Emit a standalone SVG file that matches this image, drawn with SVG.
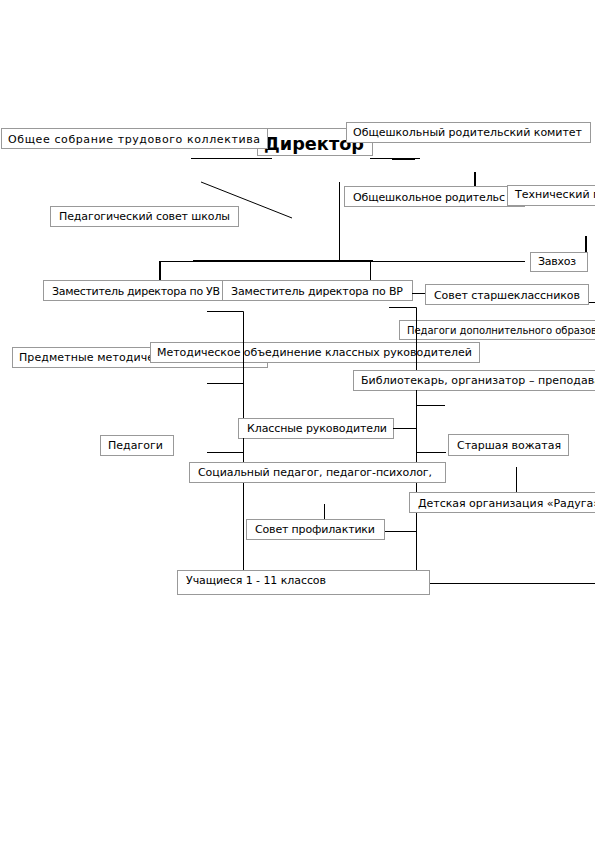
<svg xmlns="http://www.w3.org/2000/svg" width="595" height="842" viewBox="0 0 595 842">
<style>
.b{fill:#fff;stroke:#999;stroke-width:1}
.t{font-family:"DejaVu Sans","Liberation Sans",sans-serif;font-size:11px;fill:#000}
.s{font-size:10px}
.h{font-family:"DejaVu Sans","Liberation Sans",sans-serif;font-size:18px;font-weight:bold;fill:#000}
.l{stroke:#000;stroke-width:1;fill:none}
.k{stroke:#000;stroke-width:2;fill:none}
</style>
<rect width="595" height="842" fill="#fff"/>
<g id="n-director"><rect class="b" x="257.5" y="128.5" width="115" height="27"/><text class="h" x="264" y="150" textLength="100" lengthAdjust="spacingAndGlyphs">Директор</text></g>
<g id="n-sobranie"><rect class="b" x="1.5" y="128.5" width="266" height="20"/><text class="t" x="8" y="143" textLength="252" lengthAdjust="spacing">Общее собрание трудового коллектива</text></g>
<g id="n-komitet"><rect class="b" x="346.5" y="122.5" width="244" height="20"/><text class="t" x="353" y="136" textLength="229" lengthAdjust="spacing">Общешкольный родительский комитет</text></g>
<g id="n-pedsovet"><rect class="b" x="50.5" y="206.5" width="188" height="20"/><text class="t" x="59" y="220" textLength="171" lengthAdjust="spacing">Педагогический совет школы</text></g>
<g id="n-rodsovet"><rect class="b" x="344.5" y="186.5" width="180" height="20"/><text class="t" x="353" y="201" textLength="152" lengthAdjust="spacing">Общешкольное родительс</text></g>
<g id="n-tech"><rect class="b" x="507.5" y="185.5" width="100" height="20"/><text class="t" x="515" y="198">Технический п</text></g>
<g id="n-zavhoz"><rect class="b" x="530.5" y="252.5" width="57" height="19"/><text class="t" x="538" y="265" textLength="38" lengthAdjust="spacing">Завхоз</text></g>
<g id="n-zam-uvr"><rect class="b" x="43.5" y="280.5" width="180" height="20"/><text class="t" x="52" y="295" textLength="168" lengthAdjust="spacing">Заместитель директора по УВ</text></g>
<g id="n-zam-vr"><rect class="b" x="222.5" y="280.5" width="190" height="20"/><text class="t" x="231" y="295" textLength="172" lengthAdjust="spacing">Заместитель директора по ВР</text></g>
<g id="n-sovet-st"><rect class="b" x="425.5" y="284.5" width="163" height="20"/><text class="t" x="434" y="299" textLength="146" lengthAdjust="spacing">Совет старшеклассников</text></g>
<g id="n-ped-dop"><rect class="b" x="399.5" y="320.5" width="210" height="19"/><text class="t s" x="407" y="334" textLength="190" lengthAdjust="spacing">Педагоги дополнительного образов</text></g>
<g id="n-predmet"><rect class="b" x="12.5" y="347.5" width="255" height="20"/><text class="t" x="19" y="361" textLength="135" lengthAdjust="spacing">Предметные методиче</text></g>
<g id="n-mo-kr"><rect class="b" x="150.5" y="342.5" width="329" height="20"/><text class="t" x="157" y="356" textLength="315" lengthAdjust="spacing">Методическое объединение классных руководителей</text></g>
<g id="n-bib"><rect class="b" x="353.5" y="370.5" width="250" height="20"/><text class="t" x="361" y="384" textLength="240" lengthAdjust="spacing">Библиотекарь, организатор – преподава</text></g>
<g id="n-kr"><rect class="b" x="238.5" y="418.5" width="155" height="20"/><text class="t" x="247" y="432" textLength="140" lengthAdjust="spacing">Классные руководители</text></g>
<g id="n-pedagogi"><rect class="b" x="100.5" y="435.5" width="73" height="20"/><text class="t" x="108" y="449" textLength="55" lengthAdjust="spacing">Педагоги</text></g>
<g id="n-vozh"><rect class="b" x="448.5" y="434.5" width="120" height="21"/><text class="t" x="457" y="449" textLength="104" lengthAdjust="spacing">Старшая вожатая</text></g>
<g id="n-soc"><rect class="b" x="189.5" y="462.5" width="256" height="20"/><text class="t" x="198" y="476" textLength="234" lengthAdjust="spacing">Социальный педагог, педагог-психолог,</text></g>
<g id="n-raduga"><rect class="b" x="409.5" y="492.5" width="200" height="20"/><text class="t" x="418" y="507" textLength="182" lengthAdjust="spacing">Детская организация «Радуга»</text></g>
<g id="n-profil"><rect class="b" x="246.5" y="519.5" width="138" height="20"/><text class="t" x="255" y="533" textLength="120" lengthAdjust="spacing">Совет профилактики</text></g>
<g id="n-uch"><rect class="b" x="177.5" y="570.5" width="252" height="24"/><text class="t" x="186" y="584" textLength="140" lengthAdjust="spacing">Учащиеся 1 - 11 классов</text></g>
<g id="connectors">
<line class="l" x1="191" y1="158.5" x2="272" y2="158.5"/>
<line class="l" x1="370" y1="158.5" x2="420" y2="158.5"/>
<line class="k" x1="392" y1="159" x2="415" y2="159"/>
<line class="l" x1="201" y1="182" x2="292" y2="218"/>
<line class="k" x1="475" y1="172" x2="475" y2="186"/>
<line class="l" x1="339.5" y1="182" x2="339.5" y2="261"/>
<line class="l" x1="160" y1="261.5" x2="525" y2="261.5"/>
<line class="k" x1="193" y1="261" x2="373" y2="261"/>
<line class="k" x1="160" y1="261" x2="160" y2="280"/>
<line class="l" x1="370.5" y1="261" x2="370.5" y2="280"/>
<line class="k" x1="586" y1="236" x2="586" y2="252"/>
<line class="l" x1="412" y1="293.5" x2="425" y2="293.5"/>
<line class="l" x1="589" y1="302.5" x2="595" y2="302.5"/>
<polyline class="l" points="207,311.5 243.5,311.5 243.5,418"/>
<line class="l" x1="207" y1="383.5" x2="243.5" y2="383.5"/>
<line class="l" x1="243.5" y1="438" x2="243.5" y2="462"/>
<line class="l" x1="207" y1="452.5" x2="243.5" y2="452.5"/>
<line class="l" x1="243.5" y1="483" x2="243.5" y2="570"/>
<polyline class="l" points="389,307.5 416.5,307.5 416.5,370"/>
<line class="l" x1="416.5" y1="390" x2="416.5" y2="462"/>
<line class="l" x1="416.5" y1="405.5" x2="445" y2="405.5"/>
<line class="l" x1="393" y1="428.5" x2="416.5" y2="428.5"/>
<line class="l" x1="416.5" y1="452.5" x2="446" y2="452.5"/>
<line class="l" x1="416.5" y1="483" x2="416.5" y2="492"/>
<line class="l" x1="516.5" y1="467" x2="516.5" y2="492"/>
<line class="l" x1="416.5" y1="513" x2="416.5" y2="570"/>
<line class="l" x1="385" y1="531.5" x2="416.5" y2="531.5"/>
<line class="l" x1="324.5" y1="504" x2="324.5" y2="519"/>
<line class="l" x1="430" y1="583.5" x2="595" y2="583.5"/>
</g>
</svg>
